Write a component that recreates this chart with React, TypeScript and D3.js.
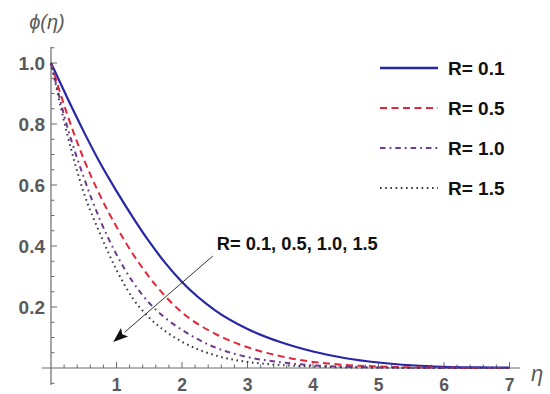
import React from "react";
import * as d3 from "d3";

// η sample points
const etaValues = [0, 0.25, 0.5, 0.75, 1.0, 1.25, 1.5, 1.75, 2.0, 2.5, 3.0, 3.5, 4.0, 4.5, 5.0, 5.5, 6.0, 6.5, 7.0];

// φ(η) for each R
const phiR01 = [1.0, 0.885, 0.775, 0.672, 0.58, 0.494, 0.414, 0.343, 0.282, 0.19, 0.128, 0.085, 0.054, 0.032, 0.018, 0.009, 0.004, 0.002, 0.001];
const phiR05 = [1.0, 0.83, 0.685, 0.565, 0.463, 0.374, 0.298, 0.234, 0.182, 0.113, 0.068, 0.039, 0.02, 0.01, 0.005, 0.002, 0.001, 0.0, 0.0];
const phiR10 = [1.0, 0.79, 0.625, 0.485, 0.372, 0.282, 0.213, 0.163, 0.125, 0.068, 0.036, 0.019, 0.009, 0.004, 0.002, 0.001, 0.0, 0.0, 0.0];
const phiR15 = [1.0, 0.765, 0.575, 0.44, 0.322, 0.228, 0.165, 0.12, 0.086, 0.042, 0.02, 0.01, 0.005, 0.002, 0.001, 0.0, 0.0, 0.0, 0.0];

const seriesLabels = ["R= 0.1", "R= 0.5", "R= 1.0", "R= 1.5"];
const seriesValues = [phiR01, phiR05, phiR10, phiR15];
const seriesColors = ["#2626a6", "#e3263a", "#6e3a8e", "#3a3a4a"];
const seriesDash = ["", "7 4.5", "5.5 4 1.8 4", "1.6 3.6"];

const xTickLabels = [1, 2, 3, 4, 5, 6, 7];
const yTickLabels = [0.2, 0.4, 0.6, 0.8, 1.0];
const annotationText = "R= 0.1, 0.5, 1.0, 1.5";
const annotationStart = [2.47, 0.367];
const annotationEnd = [0.95, 0.085];
const annotationTextPos = [2.53, 0.388];

export default function App() {
  const W = 550;
  const H = 394;
  const x = d3.scaleLinear().domain([0, 7]).range([51, 509.5]);
  const y = d3.scaleLinear().domain([0, 1]).range([368, 63]);

  const line = d3
    .line<number>()
    .x((_, i) => x(etaValues[i]))
    .y((d) => y(d))
    .curve(d3.curveMonotoneX);

  const xMinor = d3.range(0, 36).map((i) => i * 0.2).filter((v) => v > 0.01 && v <= 7.11);
  const yMinor = d3.range(-1, 22).map((i) => i * 0.05);

  const axisColor = "#6a6a6a";
  const labelColor = "#5a5a5a";

  const x0 = x(0);
  const y0 = y(0);

  const ax1 = x(annotationStart[0]);
  const ay1 = y(annotationStart[1]);
  const ax2 = x(annotationEnd[0]);
  const ay2 = y(annotationEnd[1]);
  const ang = Math.atan2(ay2 - ay1, ax2 - ax1);
  const headLen = 15;
  const headW = 5.5;
  const bx = ax2 - headLen * Math.cos(ang);
  const by = ay2 - headLen * Math.sin(ang);
  const px = -Math.sin(ang);
  const py = Math.cos(ang);
  const head = `M${ax2},${ay2} L${bx + px * headW},${by + py * headW} L${bx + Math.cos(ang) * 3},${by + Math.sin(ang) * 3} L${bx - px * headW},${by - py * headW} Z`;

  return (
    <div style={{ position: "fixed", left: 0, top: 0 }}>
      <svg width={W} height={H} style={{ display: "block", background: "#fff" }} fontFamily="'Liberation Sans', Arial, sans-serif">
        <rect width={W} height={H} fill="#fff" />
        {/* axes */}
        <line x1={x(-0.14)} x2={x(7.16)} y1={y0} y2={y0} stroke={axisColor} strokeWidth={1.2} />
        <line x1={x0} x2={x0} y1={y(-0.056)} y2={y(1.053)} stroke={axisColor} strokeWidth={1.2} />
        {/* x ticks */}
        {xMinor.map((v, i) => {
          const major = Math.abs(v - Math.round(v)) < 1e-6;
          return (
            <line key={"xt" + i} x1={x(v)} x2={x(v)} y1={y0} y2={y0 - (major ? 6 : 3.5)} stroke={axisColor} strokeWidth={1} />
          );
        })}
        {/* y ticks */}
        {yMinor.map((v, i) => {
          const major = Math.abs(v * 5 - Math.round(v * 5)) < 1e-6;
          if (Math.abs(v) < 1e-6) return null;
          return (
            <line key={"yt" + i} x1={x0} x2={x0 + (major ? 6 : 3.5)} y1={y(v)} y2={y(v)} stroke={axisColor} strokeWidth={1} />
          );
        })}
        {/* tick labels */}
        {xTickLabels.map((v) => (
          <text key={"xl" + v} x={x(v)} y={390.5} textAnchor="middle" fontSize={17.5} fontWeight="bold" fill={labelColor}>
            {v}
          </text>
        ))}
        {yTickLabels.map((v) => (
          <text key={"yl" + v} x={45} y={y(v) + 7} textAnchor="end" fontSize={19} fontWeight="bold" fill={labelColor}>
            {v.toFixed(1)}
          </text>
        ))}
        {/* axis titles */}
        <text x={47} y={29} textAnchor="middle" fontSize={20} fontStyle="italic" fill={labelColor}>
          ϕ(η)
        </text>
        <text x={537} y={381} textAnchor="middle" fontSize={22} fontStyle="italic" fill={labelColor}>
          η
        </text>
        {/* curves */}
        {seriesValues.map((vals, i) => (
          <path
            key={"s" + i}
            d={line(vals) || ""}
            fill="none"
            stroke={seriesColors[i]}
            strokeWidth={i === 0 ? 2.2 : 2}
            strokeDasharray={seriesDash[i] || undefined}
          />
        ))}
        {/* legend */}
        {seriesLabels.map((lab, i) => {
          const ly = 68 + i * 40;
          return (
            <g key={"lg" + i}>
              <line x1={380} x2={438} y1={ly} y2={ly} stroke={seriesColors[i]} strokeWidth={i === 0 ? 2.4 : 2.2} strokeDasharray={seriesDash[i] || undefined} />
              <text x={448} y={ly + 7} fontSize={19} fontWeight="bold" fill="#111">
                {lab}
              </text>
            </g>
          );
        })}
        {/* annotation */}
        <line x1={ax1} y1={ay1} x2={bx} y2={by} stroke="#333" strokeWidth={1} />
        <path d={head} fill="#111" />
        <text x={x(annotationTextPos[0])} y={y(annotationTextPos[1])} fontSize={18.3} fontWeight="bold" fill="#111">
          {annotationText}
        </text>
      </svg>
    </div>
  );
}
